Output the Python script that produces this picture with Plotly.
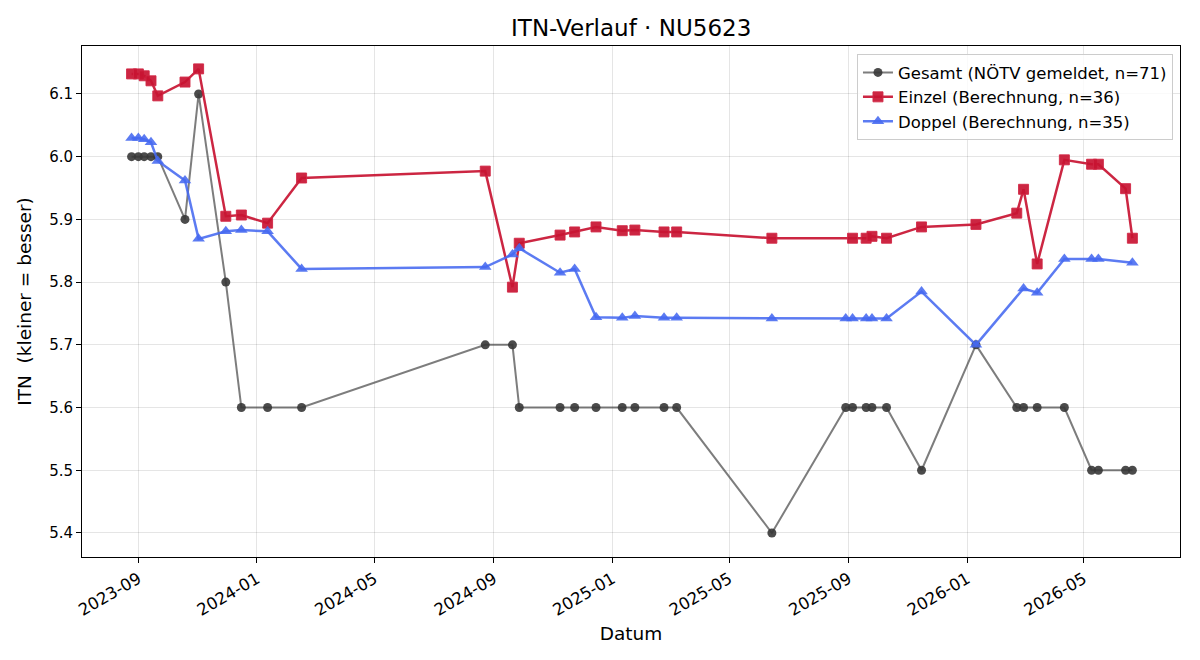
import plotly.graph_objects as go

gesamt_dates = ["2023-08-25", "2023-09-01", "2023-09-07", "2023-09-14", "2023-09-21", "2023-10-19",
                "2023-11-02", "2023-11-30", "2023-12-16", "2024-01-12", "2024-02-16", "2024-08-23",
                "2024-09-20", "2024-09-27", "2024-11-08", "2024-11-23", "2024-12-15", "2025-01-11",
                "2025-01-24", "2025-02-23", "2025-03-08", "2025-06-14", "2025-08-29", "2025-09-05",
                "2025-09-19", "2025-09-25", "2025-10-10", "2025-11-15", "2026-01-10", "2026-02-21",
                "2026-02-28", "2026-03-14", "2026-04-11", "2026-05-09", "2026-05-16", "2026-06-13",
                "2026-06-20"]
gesamt_vals = [6.0, 6.0, 6.0, 6.0, 6.0, 5.9, 6.1, 5.8, 5.6, 5.6, 5.6, 5.7, 5.7,
               5.6, 5.6, 5.6, 5.6, 5.6, 5.6, 5.6, 5.6, 5.4, 5.6, 5.6, 5.6, 5.6, 5.6,
               5.5, 5.7, 5.6, 5.6, 5.6, 5.6, 5.5, 5.5, 5.5, 5.5]

einzel_dates = ["2023-08-25", "2023-09-01", "2023-09-07", "2023-09-14", "2023-09-21", "2023-10-19",
                "2023-11-02", "2023-11-30", "2023-12-16", "2024-01-12", "2024-02-16", "2024-08-23",
                "2024-09-20", "2024-09-27", "2024-11-08", "2024-11-23", "2024-12-15", "2025-01-11",
                "2025-01-24", "2025-02-23", "2025-03-08", "2025-06-14", "2025-09-05", "2025-09-19",
                "2025-09-25", "2025-10-10", "2025-11-15", "2026-01-10", "2026-02-21", "2026-02-28",
                "2026-03-14", "2026-04-11", "2026-05-09", "2026-05-16", "2026-06-13", "2026-06-20"]
einzel_vals = [6.132, 6.132, 6.129, 6.121, 6.097, 6.119, 6.140, 5.905, 5.907, 5.894, 5.966,
               5.977, 5.792, 5.862, 5.875, 5.880, 5.888, 5.882, 5.883, 5.880, 5.880, 5.870,
               5.870, 5.870, 5.873, 5.870, 5.888, 5.892, 5.910, 5.948, 5.829, 5.995, 5.988,
               5.988, 5.949, 5.870]

doppel_dates = ["2023-08-25", "2023-09-01", "2023-09-07", "2023-09-14", "2023-09-21", "2023-10-19",
                "2023-11-02", "2023-11-30", "2023-12-16", "2024-01-12", "2024-02-16", "2024-08-23",
                "2024-09-20", "2024-09-27", "2024-11-08", "2024-11-23", "2024-12-15", "2025-01-11",
                "2025-01-24", "2025-02-23", "2025-03-08", "2025-06-14", "2025-08-29", "2025-09-05",
                "2025-09-19", "2025-09-25", "2025-10-10", "2025-11-15", "2026-01-10", "2026-02-28",
                "2026-03-14", "2026-04-11", "2026-05-09", "2026-05-16", "2026-06-20"]
doppel_vals = [6.030, 6.030, 6.028, 6.023, 5.993, 5.962, 5.869, 5.881, 5.883, 5.881, 5.821,
               5.824, 5.844, 5.854, 5.815, 5.821, 5.744, 5.743, 5.746, 5.743, 5.743, 5.742,
               5.742, 5.742, 5.742, 5.742, 5.742, 5.785, 5.700, 5.790, 5.783, 5.837, 5.837,
               5.837, 5.831]

x_ticks = ["2023-09-01", "2024-01-01", "2024-05-01", "2024-09-01", "2025-01-01",
           "2025-05-01", "2025-09-01", "2026-01-01", "2026-05-01"]
y_ticks = [5.4, 5.5, 5.6, 5.7, 5.8, 5.9, 6.0, 6.1]

FONT = "DejaVu Sans"

fig = go.Figure()
fig.add_trace(go.Scatter(
    x=gesamt_dates, y=gesamt_vals, mode="lines+markers",
    name="Gesamt (NÖTV gemeldet, n=71)",
    line=dict(color="rgba(70,70,70,0.7)", width=2),
    marker=dict(symbol="circle", size=9, color="rgba(55,55,55,0.9)", line=dict(width=0)),
))
fig.add_trace(go.Scatter(
    x=einzel_dates, y=einzel_vals, mode="lines+markers",
    name="Einzel (Berechnung, n=36)",
    line=dict(color="rgba(200,20,50,0.92)", width=2.5),
    marker=dict(symbol="square", size=10, color="rgba(200,20,50,0.92)", line=dict(width=1, color="rgba(210,40,70,0.9)")),
))
fig.add_trace(go.Scatter(
    x=doppel_dates, y=doppel_vals, mode="lines+markers",
    name="Doppel (Berechnung, n=35)",
    line=dict(color="rgba(70,105,240,0.88)", width=2.5),
    marker=dict(symbol="triangle-up", size=11, color="rgba(70,105,240,0.88)", line=dict(width=0)),
))

axis_common = dict(
    showline=True, linecolor="black", linewidth=1, mirror=True,
    ticks="outside", ticklen=5, tickcolor="black", tickwidth=1,
    showgrid=True, gridcolor="rgba(0,0,0,0.1)", gridwidth=1,
    zeroline=False,
)

fig.update_layout(
    width=1200, height=660,
    paper_bgcolor="white", plot_bgcolor="white",
    margin=dict(l=82, r=20, t=46, b=103),
    font=dict(family=FONT, color="black"),
    title=dict(text="ITN-Verlauf · NU5623", x=0.526, xanchor="center", y=0.958, yanchor="middle",
               font=dict(family=FONT, size=23, color="black")),
    xaxis=dict(
        **axis_common,
        type="date",
        range=["2023-07-05", "2026-08-08"],
        tickvals=x_ticks, tickformat="%Y-%m", tickangle=-30,
        tickfont=dict(family=FONT, size=16.5, color="black"),
        title=dict(text="Datum", font=dict(family=FONT, size=18.5), standoff=8),
    ),
    yaxis=dict(
        **axis_common,
        range=[5.3617, 6.1765],
        tickvals=y_ticks, tickformat=".1f",
        tickfont=dict(family=FONT, size=15, color="black"),
        title=dict(text="ITN  (kleiner = besser)", font=dict(family=FONT, size=18.5), standoff=12),
    ),
    legend=dict(
        x=0.9936, y=0.984, xanchor="right", yanchor="top",
        bgcolor="rgba(255,255,255,0.8)", bordercolor="#cccccc", borderwidth=1,
        font=dict(family=FONT, size=16.5, color="black"),
        tracegroupgap=2,
    ),
    showlegend=True,
)

fig.write_html("out.html")
